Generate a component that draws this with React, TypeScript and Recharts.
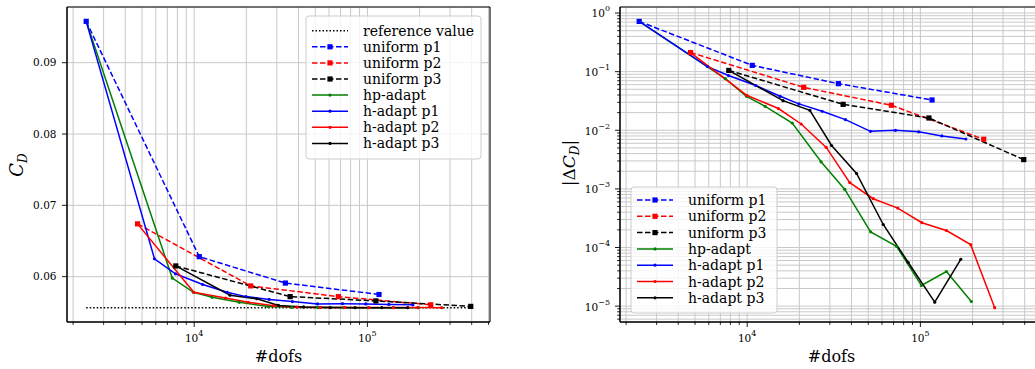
import { LineChart, Line, XAxis, YAxis, CartesianGrid, ReferenceArea } from "recharts";

// ---- data ----
const refValue = 0.05565;
const refDofs = [2380, 395000];

const uniformP1Dofs = [2380, 10700, 33600, 116700];
const uniformP1Cd = [0.0958, 0.0628, 0.0591, 0.0575];
const uniformP1Err = [0.72, 0.128, 0.0624, 0.0329];

const uniformP2Dofs = [4710, 21200, 68000, 232000];
const uniformP2Cd = [0.0674, 0.0587, 0.0572, 0.05605];
const uniformP2Err = [0.212, 0.054, 0.0267, 0.00703];

const uniformP3Dofs = [7830, 35800, 112000, 395000];
const uniformP3Cd = [0.0615, 0.0572, 0.0566, 0.05583];
const uniformP3Err = [0.105, 0.0277, 0.0162, 0.00316];

const hpDofs = [2380, 7470, 9910, 12700, 18200, 26700, 36600, 51600, 72800, 101400, 141300, 196700];
const hpCd = [0.0958, 0.0598, 0.0578, 0.0571, 0.0564, 0.05581, 0.0557, 0.05566, 0.05566, 0.05565, 0.05565, 0.05565];
const hpErr = [0.72, 0.076, 0.038, 0.0256, 0.0133, 0.0029, 0.00098, 0.000185, 0.000105, 0.0000225, 0.000039, 0.000012];

const hP1Dofs = [2380, 5900, 7800, 11200, 15500, 19900, 27100, 36900, 51500, 71800, 97800, 133000, 183000];
const hP1Cd = [0.0958, 0.0625, 0.0604, 0.0589, 0.0578, 0.0572, 0.0568, 0.0565, 0.05618, 0.05621, 0.05617, 0.0561, 0.05605];
const hP1Err = [0.72, 0.122, 0.086, 0.058, 0.038, 0.0282, 0.0211, 0.0152, 0.0096, 0.01, 0.0094, 0.008, 0.0071];

const hP2Dofs = [4710, 9950, 15150, 20500, 28600, 39100, 53400, 74000, 102000, 141300, 195000, 268500];
const hP2Cd = [0.0674, 0.0578, 0.057, 0.0564, 0.05593, 0.05572, 0.05569, 0.05568, 0.05566, 0.05566, 0.05566, 0.05565];
const hP2Err = [0.212, 0.0395, 0.0235, 0.0128, 0.0051, 0.00128, 0.00068, 0.00047, 0.000265, 0.000195, 0.000112, 0.0000094];

const hP3Dofs = [7830, 16100, 23000, 30700, 42800, 61000, 84900, 121000, 171000];
const hP3Cd = [0.0615, 0.0574, 0.0569, 0.05596, 0.05575, 0.05566, 0.05565, 0.05565, 0.05565];
const hP3Err = [0.105, 0.032, 0.0219, 0.0055, 0.00183, 0.000247, 0.000056, 0.0000117, 0.000063];

// ---- ticks ----
const xMajorTicks = [10000, 100000];
const xTicks = [
  2000, 3000, 4000, 5000, 6000, 7000, 8000, 9000,
  10000, 20000, 30000, 40000, 50000, 60000, 70000, 80000, 90000,
  100000, 200000, 300000, 400000, 500000,
];
const cdTicks = [0.06, 0.07, 0.08, 0.09];
const errMajorTicks = [1e-5, 1e-4, 1e-3, 1e-2, 1e-1, 1];
const errTicks = [
  6e-6, 7e-6, 8e-6, 9e-6,
  1e-5, 2e-5, 3e-5, 4e-5, 5e-5, 6e-5, 7e-5, 8e-5, 9e-5,
  1e-4, 2e-4, 3e-4, 4e-4, 5e-4, 6e-4, 7e-4, 8e-4, 9e-4,
  1e-3, 2e-3, 3e-3, 4e-3, 5e-3, 6e-3, 7e-3, 8e-3, 9e-3,
  1e-2, 2e-2, 3e-2, 4e-2, 5e-2, 6e-2, 7e-2, 8e-2, 9e-2,
  0.1, 0.2, 0.3, 0.4, 0.5, 0.6, 0.7, 0.8, 0.9, 1,
];

const X_DOMAIN: [number, number] = [1844, 510200];
const CD_DOMAIN: [number, number] = [0.05364, 0.09781];
const ERR_DOMAIN: [number, number] = [5.36e-6, 1.268];

const FONT = "DejaVu Serif, serif";
const GRID = "#c8c8c8";

const zip = (xs: number[], ys: number[]) => xs.map((x, i) => ({ x, y: ys[i] }));

const series = [
  { name: "uniform p1", color: "#0000ff", dashed: true, dofs: uniformP1Dofs, cd: uniformP1Cd, err: uniformP1Err },
  { name: "uniform p2", color: "#ff0000", dashed: true, dofs: uniformP2Dofs, cd: uniformP2Cd, err: uniformP2Err },
  { name: "uniform p3", color: "#000000", dashed: true, dofs: uniformP3Dofs, cd: uniformP3Cd, err: uniformP3Err },
  { name: "hp-adapt", color: "#008000", dashed: false, dofs: hpDofs, cd: hpCd, err: hpErr },
  { name: "h-adapt p1", color: "#0000ff", dashed: false, dofs: hP1Dofs, cd: hP1Cd, err: hP1Err },
  { name: "h-adapt p2", color: "#ff0000", dashed: false, dofs: hP2Dofs, cd: hP2Cd, err: hP2Err },
  { name: "h-adapt p3", color: "#000000", dashed: false, dofs: hP3Dofs, cd: hP3Cd, err: hP3Err },
];

const makeDot = (color: string, square: boolean) => (props: any) => {
  const { cx, cy, index } = props;
  if (cx == null || cy == null) return <g key={index} />;
  return square ? (
    <rect key={index} x={cx - 2.6} y={cy - 2.6} width={5.2} height={5.2} fill={color} />
  ) : (
    <circle key={index} cx={cx} cy={cy} r={1.6} fill={color} />
  );
};

const Pow10 = ({ v }: { v: number }) => {
  const e = Math.round(Math.log10(v));
  return (
    <>
      10
      <tspan dy={-6} fontSize={8}>
        {e < 0 ? "\u2212" + Math.abs(e) : String(e)}
      </tspan>
    </>
  );
};

const XTick = (props: any) => {
  const { x, y, payload } = props;
  const major = xMajorTicks.includes(payload.value);
  return (
    <g>
      <line x1={x} x2={x} y1={y} y2={y + (major ? 5 : 2.8)} stroke="#000" strokeWidth={0.9} />
      {major && (
        <text x={x} y={y + 19.5} textAnchor="middle" fontSize={10.5} fontFamily={FONT} fill="#000">
          <Pow10 v={payload.value} />
        </text>
      )}
    </g>
  );
};

const CdTick = (props: any) => {
  const { x, y, payload } = props;
  return (
    <g>
      <line x1={x - 5} x2={x} y1={y} y2={y} stroke="#000" strokeWidth={0.9} />
      <text x={x - 10.5} y={y} dy="0.36em" textAnchor="end" fontSize={10.5} fontFamily={FONT} fill="#000">
        {payload.value.toFixed(2)}
      </text>
    </g>
  );
};

const ErrTick = (props: any) => {
  const { x, y, payload } = props;
  const major = errMajorTicks.some((m) => Math.abs(m - payload.value) / m < 1e-6);
  return (
    <g>
      <line x1={x - (major ? 5 : 2.8)} x2={x} y1={y} y2={y} stroke="#000" strokeWidth={0.9} />
      {major && (
        <text x={x - 10} y={y} dy="0.42em" textAnchor="end" fontSize={10.5} fontFamily={FONT} fill="#000">
          <Pow10 v={payload.value} />
        </text>
      )}
    </g>
  );
};

function LegendBox({ x, y, w, h, rowY, step, withRef }: any) {
  const items = withRef
    ? [{ name: "reference value", color: "#000", dotted: true }, ...series]
    : series;
  return (
    <g>
      <rect x={x} y={y} width={w} height={h} rx={3} fill="#fff" fillOpacity={0.8} stroke="#cccccc" strokeWidth={1} />
      {items.map((s: any, i: number) => {
        const cy = rowY + i * step;
        const lx = x + 6;
        return (
          <g key={s.name}>
            <line
              x1={lx}
              x2={lx + 36}
              y1={cy}
              y2={cy}
              stroke={s.color}
              strokeWidth={1.5}
              strokeDasharray={s.dotted ? "1.5 2" : s.dashed ? "5.5 2.5" : undefined}
            />
            {!s.dotted &&
              (s.dashed ? (
                <rect x={lx + 18 - 2.6} y={cy - 2.6} width={5.2} height={5.2} fill={s.color} />
              ) : (
                <circle cx={lx + 18} cy={cy} r={1.6} fill={s.color} />
              ))}
            <text x={lx + 51} y={cy + 5} fontSize={14} fontFamily={FONT} fill="#000">
              {s.name}
            </text>
          </g>
        );
      })}
    </g>
  );
}

export default function App() {
  return (
    <div style={{ position: "absolute", left: 0, top: 0, width: 1035, height: 369, overflow: "hidden", background: "#fff" }}>
      <div style={{ position: "absolute", left: 0, top: 0 }}>
        <LineChart width={500} height={369} margin={{ top: 7, right: 10, bottom: 17, left: 0 }}>
          <CartesianGrid stroke={GRID} strokeWidth={1} />
          <XAxis
            dataKey="x"
            type="number"
            scale="log"
            domain={X_DOMAIN}
            allowDataOverflow
            ticks={xTicks}
            interval={0}
            tickSize={0}
            tickMargin={0}
            tickLine={false}
            tick={(p: any) => <XTick {...p} />}
            height={30}
            axisLine={{ stroke: "#000" }}
          />
          <YAxis
            type="number"
            domain={CD_DOMAIN}
            allowDataOverflow
            ticks={cdTicks}
            interval={0}
            tickSize={0}
            tickMargin={0}
            tickLine={false}
            tick={(p: any) => <CdTick {...p} />}
            width={67}
            axisLine={{ stroke: "#000" }}
          />
          <ReferenceArea x1={X_DOMAIN[0]} x2={X_DOMAIN[1]} y1={CD_DOMAIN[0]} y2={CD_DOMAIN[1]} fill="none" stroke="#000" strokeWidth={1} ifOverflow="visible" />
          <Line
            data={refDofs.map((x) => ({ x, y: refValue }))}
            dataKey="y"
            stroke="#000"
            strokeWidth={1.5}
            strokeDasharray="1.5 2"
            dot={false}
            activeDot={false}
            isAnimationActive={false}
          />
          {series.map((s) => (
            <Line
              key={s.name}
              data={zip(s.dofs, s.cd)}
              dataKey="y"
              stroke={s.color}
              strokeWidth={1.5}
              strokeDasharray={s.dashed ? "5.5 2.5" : undefined}
              dot={makeDot(s.color, s.dashed)}
              activeDot={false}
              isAnimationActive={false}
            />
          ))}
        </LineChart>
      </div>
      <div style={{ position: "absolute", left: 520, top: 0 }}>
        <LineChart width={540} height={369} margin={{ top: 7, right: 17, bottom: 17, left: 0 }}>
          <CartesianGrid stroke={GRID} strokeWidth={1} />
          <XAxis
            dataKey="x"
            type="number"
            scale="log"
            domain={X_DOMAIN}
            allowDataOverflow
            ticks={xTicks}
            interval={0}
            tickSize={0}
            tickMargin={0}
            tickLine={false}
            tick={(p: any) => <XTick {...p} />}
            height={30}
            axisLine={{ stroke: "#000" }}
          />
          <YAxis
            type="number"
            scale="log"
            domain={ERR_DOMAIN}
            allowDataOverflow
            ticks={errTicks}
            interval={0}
            tickSize={0}
            tickMargin={0}
            tickLine={false}
            tick={(p: any) => <ErrTick {...p} />}
            width={100}
            axisLine={{ stroke: "#000" }}
          />
          <ReferenceArea x1={X_DOMAIN[0]} x2={X_DOMAIN[1]} y1={ERR_DOMAIN[0]} y2={ERR_DOMAIN[1]} fill="none" stroke="#000" strokeWidth={1} ifOverflow="visible" />
          {series.map((s) => (
            <Line
              key={s.name}
              data={zip(s.dofs, s.err)}
              dataKey="y"
              stroke={s.color}
              strokeWidth={1.5}
              strokeDasharray={s.dashed ? "5.5 2.5" : undefined}
              dot={makeDot(s.color, s.dashed)}
              activeDot={false}
              isAnimationActive={false}
            />
          ))}
        </LineChart>
      </div>
      <svg width={1035} height={369} style={{ position: "absolute", left: 0, top: 0, pointerEvents: "none" }}>
        <text x={278.5} y={362} textAnchor="middle" fontSize={16} fontFamily={FONT} fill="#000">
          #dofs
        </text>
        <text x={831.5} y={362} textAnchor="middle" fontSize={16} fontFamily={FONT} fill="#000">
          #dofs
        </text>
        <text transform="translate(23,165) rotate(-90)" textAnchor="middle" fontSize={18} fontFamily={FONT} fontStyle="italic" fill="#000">
          C<tspan fontSize={12} dy={4}>D</tspan>
        </text>
        <text transform="translate(575,163) rotate(-90)" textAnchor="middle" fontSize={17} fontFamily={FONT} fill="#000">
          |Δ<tspan fontStyle="italic">C</tspan>
          <tspan fontStyle="italic" fontSize={12} dy={4}>D</tspan>
          <tspan dy={-4}>|</tspan>
        </text>
        <LegendBox x={306} y={16} w={175} h={143} rowY={30.7} step={16.1} withRef />
        <LegendBox x={631} y={187} w={146} h={126} rowY={200} step={16.3} withRef={false} />
      </svg>
    </div>
  );
}
